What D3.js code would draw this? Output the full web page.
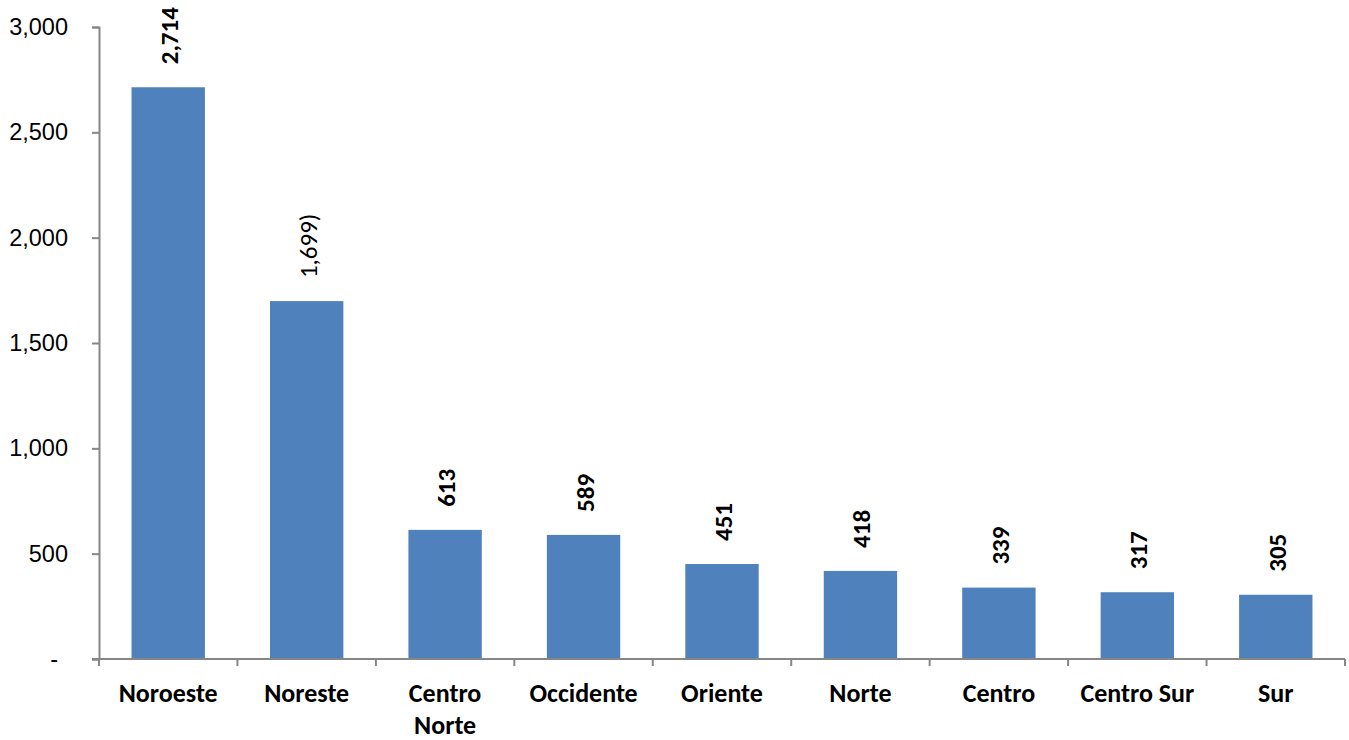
<!DOCTYPE html>
<html>
<head>
<meta charset="utf-8">
<script src="https://cdn.jsdelivr.net/npm/d3@7"></script>
<style>
  body { margin: 0; background: #fff; }
  svg { font-family: Carlito, Lato, "Open Sans", sans-serif; }
</style>
</head>
<body>
<svg id="chart" width="1349" height="740"></svg>
<script>
const categories = ["Noroeste", "Noreste", "Centro Norte", "Occidente", "Oriente", "Norte", "Centro", "Centro Sur", "Sur"];
const values = [2714, 1699, 613, 589, 451, 418, 339, 317, 305];
const valueLabels = ["2,714", "1,699)", "613", "589", "451", "418", "339", "317", "305"];
const yTicks = [0, 500, 1000, 1500, 2000, 2500, 3000];

const svg = d3.select("#chart");
const mLeft = 99, mRight = 1345, mTop = 27, mBottom = 659;
const axisColor = "#868686";

const x = d3.scaleBand().domain(categories).range([mLeft, mRight]).paddingInner(0.47).paddingOuter(0.235);
const y = d3.scaleLinear().domain([0, 3000]).range([mBottom, mTop]);

// barras
svg.selectAll("rect.bar")
  .data(values)
  .enter().append("rect")
  .attr("class", "bar")
  .attr("x", (d, i) => x(categories[i]))
  .attr("y", d => y(d))
  .attr("width", x.bandwidth())
  .attr("height", d => mBottom - y(d))
  .attr("fill", "#4F81BD");

// eje Y
const yAxis = svg.append("g")
  .attr("transform", `translate(${mLeft},0)`)
  .call(d3.axisLeft(y).tickValues(yTicks).tickSizeOuter(0).tickSize(7).tickPadding(24)
    .tickFormat(d => d === 0 ? "-" : d3.format(",")(d)));
yAxis.select(".domain").attr("stroke", axisColor).attr("stroke-width", 2);
yAxis.selectAll(".tick line").attr("stroke", axisColor).attr("stroke-width", 2);
yAxis.selectAll(".tick text").attr("fill", "#000").style("font-size", "23.5px");
// el cero se muestra como "-" algo más a la izquierda (formato contable)
yAxis.selectAll(".tick text").filter(d => d === 0).attr("dx", "-10");

// eje X (marcas entre categorías)
const xg = svg.append("g");
xg.append("line")
  .attr("x1", mLeft - 7).attr("x2", mRight)
  .attr("y1", mBottom).attr("y2", mBottom)
  .attr("stroke", axisColor).attr("stroke-width", 2);
xg.selectAll("line.tk")
  .data(d3.range(categories.length + 1))
  .enter().append("line")
  .attr("class", "tk")
  .attr("x1", i => mLeft + i * (mRight - mLeft) / categories.length)
  .attr("x2", i => mLeft + i * (mRight - mLeft) / categories.length)
  .attr("y1", mBottom).attr("y2", mBottom + 7)
  .attr("stroke", axisColor).attr("stroke-width", 2);

// etiquetas de categoría
const wraps = { "Centro Norte": ["Centro", "Norte"] };
svg.selectAll("text.cat")
  .data(categories)
  .enter().append("text")
  .attr("class", "cat")
  .attr("text-anchor", "middle")
  .attr("font-weight", "bold")
  .style("font-size", "26px")
  .attr("fill", "#000")
  .each(function (d) {
    const lines = wraps[d] || [d];
    const t = d3.select(this);
    lines.forEach((ln, k) => {
      t.append("tspan")
        .attr("x", x(d) + x.bandwidth() / 2)
        .attr("y", 702 + k * 32)
        .text(ln);
    });
  });

// etiquetas de valor (rotadas)
svg.selectAll("text.val")
  .data(values)
  .enter().append("text")
  .attr("class", "val")
  .attr("transform", (d, i) => `translate(${x(categories[i]) + x.bandwidth() / 2 + 10},${y(d) - 23}) rotate(-90)`)
  .attr("text-anchor", "start")
  .attr("font-weight", (d, i) => i === 1 ? "normal" : "bold")
  .style("font-size", "25px")
  .attr("fill", "#000")
  .text((d, i) => valueLabels[i]);
</script>
</body>
</html>
